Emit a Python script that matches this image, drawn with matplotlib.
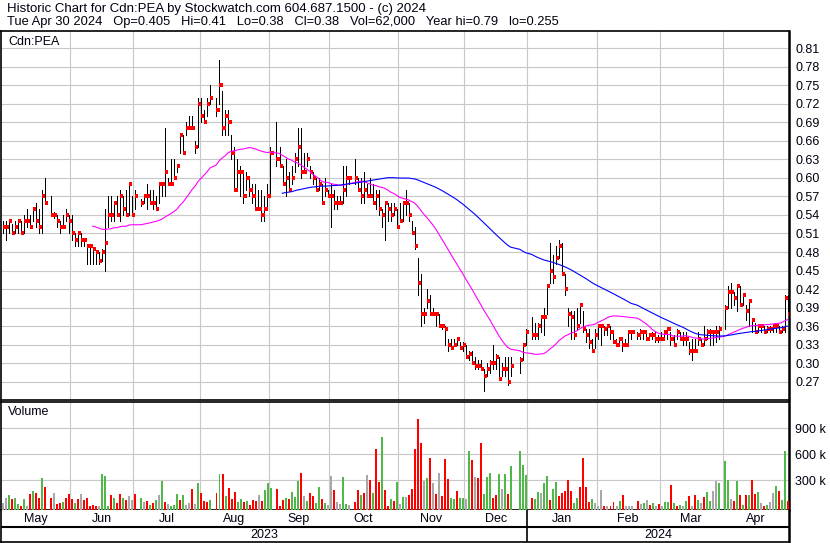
import numpy as np
import pandas as pd
import matplotlib
matplotlib.use("Agg")
import matplotlib.pyplot as plt

N = np.nan

# one entry per weekday, Mon May 1 2023 .. Tue Apr 30 2024 (nan = exchange closed)
high = [
    .53, .53, .53, .525, .53, .53, .53, .54, .55, .54, .55, .56, .55, .58, .60, N, .57, .545, .54, .53, .54, .55, .54,  # May
    .54, .51, .51, .51, .50, .49, .49, .485, .48, .48, .485, .55, .57, .57, .56, .57, .58, .57, .58, .59, .57, .58,  # Jun
    N, .565, .57, .59, .58, .58, .57, .59, .59, .68, .60, .63, .63, .62, .67, .67, .69, .70, .70, .66, .73,  # Jul
    .73, .71, .73, .75, N, .73, .79, .74, .71, .71, .67, .65, .63, .62, .61, .61, .60, .59, .59, .58, .58, .57, .59,  # Aug
    .65, N, .69, .65, .62, .63, .61, .62, .64, .68, .68, .64, .64, .62, .61, .60, .60, .59, .60, .58, .59,  # Sep
    .58, .57, .57, .62, .62, .60, N, .63, .60, .60, .61, .59, .60, .59, .58, .58, .55, .56, .56, .56, .56, .55,  # Oct
    .56, .56, .58, .56, .53, .52, .47, .445, .39, .42, .41, .39, .38, .38, .36, .36, .34, .34, .34, .34, .335, .335,  # Nov
    .33, .32, .32, .31, .305, .305, .29, .30, .305, .33, .315, .31, .30, .31, .31, .31, N, N, .31, .33, .355,  # Dec
    N, .375, .365, .365, .375, .39, .425, .495, .475, .49, .50, .495, .445, .39, .385, .385, .39, .395, .385, .355, .355, .34, .355,  # Jan
    .36, .36, .36, .36, .36, .35, .34, .34, .34, .34, .35, .35, N, .35, .355, .35, .35, .345, .35, .35, .345,  # Feb
    .35, .35, .355, .35, .345, .355, .35, .35, .35, .335, .34, .34, .35, .34, .36, .355, .355, .35, .36, .36, N,  # Mar
    .395, .425, .43, .415, .425, .425, .41, .395, .40, .37, .365, .36, .36, .36, .36, .36, .36, .36, .36, .36, .41, .41,  # Apr
]
low = [
    .51, .50, .51, .51, .51, .51, .51, .51, .52, .52, .53, .52, .51, .51, .56, N, .54, .535, .52, .51, .52, .53, .51,
    .50, .49, .49, .49, .49, .46, .46, .46, .46, .46, .465, .45, .52, .53, .53, .54, .53, .54, .54, .54, .54, .55,
    N, .555, .56, .55, .56, .55, .55, .56, .57, .57, .59, .59, .60, .61, .64, .64, .67, .68, .68, .64, .65,
    .69, .69, .70, .72, N, .70, .72, .67, .67, .67, .63, .58, .58, .57, .56, .58, .57, .56, .55, .55, .53, .53, .55,
    .57, N, .62, .62, .59, .57, .58, .59, .61, .62, .60, .61, .62, .60, .59, .58, .58, .56, .57, .57, .52,
    .55, .55, .56, .56, .57, .59, N, .59, .58, .56, .56, .57, .57, .56, .55, .54, .52, .50, .53, .53, .54, .52,
    .53, .53, .54, .53, .51, .485, .41, .36, .365, .39, .38, .38, .36, .36, .355, .33, .32, .325, .33, .33, .325, .32,
    .31, .305, .30, .29, .29, .29, .255, .28, .285, .29, .29, .275, .28, .28, .265, .28, N, N, .285, .305, .33,
    N, .34, .34, .34, .35, .345, .38, .43, .43, .46, .47, .445, .41, .36, .34, .34, .355, .365, .35, .335, .325, .32, .325,
    .34, .33, .345, .345, .34, .335, .33, .33, .32, .33, .335, .34, N, .34, .34, .34, .34, .34, .34, .335, .335,
    .34, .34, .34, .33, .33, .34, .34, .33, .33, .315, .305, .32, .33, .33, .33, .34, .33, .33, .335, .34, N,
    .355, .39, .39, .395, .385, .395, .395, .37, .36, .35, .35, .35, .35, .35, .35, .35, .35, .35, .35, .35, .35, .38,
]
close = [
    .52, .52, .53, .51, .52, .53, .51, .53, .53, .52, .55, .53, .52, .57, .56, N, .54, .54, .53, .52, .52, .54, .53,
    .51, .50, .51, .50, .50, .49, .49, .485, .48, .465, .48, .495, .54, .54, .56, .54, .57, .55, .54, .59, .54, .57,
    N, .56, .57, .57, .56, .56, .55, .59, .59, .61, .59, .59, .60, .62, .67, .64, .68, .68, .68, .65, .72,
    .70, .69, .72, .73, N, .71, .75, .68, .70, .69, .64, .58, .61, .61, .57, .60, .58, .57, .55, .55, .54, .55, .57,
    .64, N, .63, .62, .59, .60, .58, .60, .63, .65, .61, .61, .63, .61, .60, .58, .59, .56, .58, .57, .57,
    .56, .56, .56, .58, .60, .60, N, .60, .58, .57, .58, .57, .57, .56, .57, .55, .54, .56, .55, .54, .55, .52,
    .53, .56, .56, .54, .51, .49, .43, .38, .38, .40, .38, .38, .38, .36, .36, .355, .33, .325, .33, .34, .325, .33,
    .31, .315, .30, .295, .295, .29, .28, .29, .30, .30, .31, .275, .29, .29, .27, .295, N, N, .305, .33, .35,
    N, .345, .345, .36, .375, .375, .425, .45, .44, .47, .49, .445, .42, .38, .375, .345, .36, .395, .355, .345, .335, .32, .345,
    .36, .36, .355, .36, .35, .335, .33, .34, .33, .33, .35, .35, N, .345, .35, .35, .34, .345, .345, .34, .34,
    .34, .35, .355, .34, .33, .35, .34, .34, .34, .32, .32, .32, .34, .33, .34, .35, .35, .35, .35, .355, N,
    .39, .415, .415, .405, .425, .395, .41, .385, .40, .37, .35, .36, .36, .35, .355, .355, .36, .36, .35, .355, .405, .38,
]
# volume in thousands of shares
volume = [
    35, 92, 131, 85, 92, 23, 5, 85, 5, 142, 177, 154, 92, 323, 223, 0, 92, 154, 27, 42, 50, 100, 142,
    85, 42, 85, 142, 69, 92, 5, 15, 5, 5, 373, 354, 5, 135, 92, 42, 142, 92, 73, 123, 73, 142,
    0, 92, 50, 62, 15, 35, 69, 131, 292, 50, 23, 5, 15, 142, 73, 131, 15, 35, 200, 27, 269,
    154, 62, 50, 73, 0, 154, 373, 373, 123, 212, 85, 165, 50, 85, 50, 62, 15, 69, 62, 131, 62, 185, 269,
    212, 0, 200, 5, 73, 92, 85, 165, 112, 292, 385, 123, 62, 154, 123, 42, 223, 85, 42, 15, 350,
    185, 50, 27, 338, 27, 15, 0, 50, 185, 135, 154, 362, 300, 154, 662, 281, 800, 192, 5, 85, 62, 281,
    23, 112, 112, 135, 204, 662, 1008, 731, 292, 327, 558, 269, 142, 385, 123, 546, 315, 92, 81, 173, 92, 92,
    81, 638, 535, 338, 323, 731, 142, 338, 385, 100, 131, 373, 200, 373, 142, 465, 0, 0, 638, 477, 362,
    0, 92, 81, 162, 154, 269, 350, 73, 200, 281, 123, 154, 173, 304, 173, 42, 100, 223, 558, 223, 50, 81, 42,
    5, 185, 5, 5, 5, 54, 5, 62, 131, 5, 5, 5, 0, 62, 23, 42, 73, 15, 35, 5, 23,
    5, 50, 50, 250, 35, 5, 15, 5, 62, 123, 5, 131, 73, 42, 112, 162, 62, 173, 292, 269, 0,
    523, 300, 85, 62, 292, 135, 15, 135, 135, 300, 142, 162, 35, 5, 15, 54, 154, 238, 173, 73, 638, 62,
]
# u = up, d = down, n = unchanged, - = closed
direction = (
    "n n u d u u d u n d u d d u d - d n d d u d d "
    "d u d n d d d d d n u u u d u d d u d n n d "
    "- u n d u d u n u d n u u u d u n n d n u "
    "d d d u - d u d u d d d u u d u d d d n d u u "
    "u - d d d u d u u u d n u d d u u d u n n "
    "d n n u u n - d d u d n d u d d u d d u d u "
    "n u n d d d d d n u d n d n d d d u u d u u "
    "n u d n d d u u u d d u n u d u - - u u u "
    "- d u u n u u d u u d d d d d u u d d d d u n "
    "n n d n d d n u d n n n - d n u n d u n d "
    "n u u d u d u n u d n d u n d u u n n u - "
    "u u n d u d u d u d d u n d u n n u d u u d"
).split()

month_names = ["May", "Jun", "Jul", "Aug", "Sep", "Oct", "Nov", "Dec", "Jan", "Feb", "Mar", "Apr"]
years = ["2023", "2024"]
price_ticks = [0.27, 0.30, 0.33, 0.36, 0.39, 0.42, 0.45, 0.48, 0.51, 0.54, 0.57, 0.60,
               0.63, 0.66, 0.69, 0.72, 0.75, 0.78, 0.81]
vol_ticks = [300, 600, 900]

title1 = "Historic Chart for Cdn:PEA by Stockwatch.com 604.687.1500 - (c) 2024"
title2_fields = ["Tue Apr 30 2024", "Op=0.405", "Hi=0.41", "Lo=0.38", "Cl=0.38",
                 "Vol=62,000", "Year hi=0.79", "lo=0.255"]

days = pd.bdate_range("2023-05-01", "2024-04-30")
x = np.arange(len(days))
hi = np.array(high, float)
lo = np.array(low, float)
cl = np.array(close, float)
vol = np.array(volume, float)
assert len(hi) == len(lo) == len(cl) == len(vol) == len(direction) == len(days)
ok = ~np.isnan(cl)

# moving averages over trading days
s = pd.Series(cl[ok], index=x[ok])
ma30 = s.rolling(30).mean()
ma90 = s.rolling(90).mean()

# month boundaries (a month starting on a weekend is drawn one slot earlier)
edges = []
for m in pd.date_range("2023-06-01", "2024-04-01", freq="MS"):
    k = np.searchsorted(days, m)
    if m.weekday() >= 5:
        k -= 1
    edges.append(k - 0.5)
bounds = [-0.5] + edges + [len(days) - 0.5]
jan_edge = edges[7]

plt.rcParams["font.family"] = ["Liberation Sans", "DejaVu Sans"]
txt = "#000010"
grid = "#c8c8c8"

W, H = 830, 543
def box(l, t, r, b):
    return [l / W, 1 - b / H, (r - l) / W, (b - t) / H]

fig = plt.figure(figsize=(W / 100, H / 100), dpi=100)
axp = fig.add_axes(box(1, 30.5, 789, 400))
axv = fig.add_axes(box(1, 401.5, 789, 510))
axl = fig.add_axes(box(1, 510, 789, 541.5))

xl = (-0.5, len(days) - 0.5)

# price panel
axp.set_xlim(xl)
axp.set_ylim(0.2405, 0.8385)
axp.set_xticks(edges)
axp.set_yticks(price_ticks)
axp.set_yticklabels([f"{t:.2f}" for t in price_ticks])
axp.yaxis.tick_right()
axp.tick_params(axis="y", length=0, pad=4.5, labelsize=9, labelcolor=txt)
axp.tick_params(axis="x", length=0, labelbottom=False)
axp.grid(True, color=grid, lw=0.8)
axp.set_axisbelow(True)
axp.vlines(x[ok] + 0.1, lo[ok], hi[ok], colors="black", lw=0.5, antialiased=False, zorder=3)
axp.hlines(cl[ok], x[ok] + 0.1, x[ok] + 1.15, colors="#ff0000", lw=1.5, antialiased=False, zorder=4)
axp.plot(ma30.index, ma30.values, color="#ff00ff", lw=0.8, zorder=5)
axp.plot(ma90.index, ma90.values, color="#0000ff", lw=0.8, zorder=5)
axp.text(0.009, 0.968, "Cdn:PEA", transform=axp.transAxes, fontsize=9, color=txt, va="center")

# volume panel
vbot = -43
cmap = {"u": "#4fb848", "d": "#ff0000", "n": "#a8a8a8"}
cols = [cmap.get(d, "white") for d in direction]
axv.set_xlim(xl)
axv.set_ylim(vbot, 1209)
axv.set_xticks(edges)
axv.set_yticks(vol_ticks)
axv.set_yticklabels([f"{t} k" for t in vol_ticks])
axv.yaxis.tick_right()
axv.tick_params(axis="y", length=0, pad=4.5, labelsize=9, labelcolor=txt)
axv.tick_params(axis="x", length=0, labelbottom=False)
axv.grid(True, color=grid, lw=0.8)
axv.set_axisbelow(True)
axv.bar(x[ok] + 0.15, vol[ok] - vbot, bottom=vbot, width=0.66,
        color=[c for c, k in zip(cols, ok) if k], zorder=3)
axv.text(0.009, 0.9, "Volume", transform=axv.transAxes, fontsize=9, color=txt, va="center")

# month / year strip
axl.set_xlim(xl)
axl.set_ylim(0, 1)
axl.set_xticks([])
axl.set_yticks([])
axl.axhline(0.45, color="black", lw=1.5)
axl.axvline(jan_edge, color="black", lw=1.2)
for name, a, b in zip(month_names, bounds[:-1], bounds[1:]):
    axl.text((a + b) / 2, 0.73, name, ha="center", va="center", fontsize=9, color=txt)
axl.text((xl[0] + jan_edge) / 2, 0.22, years[0], ha="center", va="center", fontsize=9, color=txt)
axl.text((jan_edge + xl[1]) / 2, 0.22, years[1], ha="center", va="center", fontsize=9, color=txt)

for ax in (axp, axv, axl):
    for side in ("left", "top", "bottom"):
        ax.spines[side].set_linewidth(1.2)
    ax.spines["right"].set_linewidth(1.8)
axl.spines["top"].set_visible(False)

# header lines, scaled to the width they take in the original
t1 = fig.text(7 / W, 1 - 9 / H, title1, fontsize=9, color=txt, va="center")
t2 = fig.text(7 / W, 1 - 22.5 / H, "   ".join(title2_fields), fontsize=9, color=txt, va="center")
rend = fig.canvas.get_renderer()
for t, target in ((t1, 421), (t2, 549)):
    w = t.get_window_extent(rend).width
    t.set_fontsize(t.get_fontsize() * target / w)

fig.savefig("out.png", dpi=100)
